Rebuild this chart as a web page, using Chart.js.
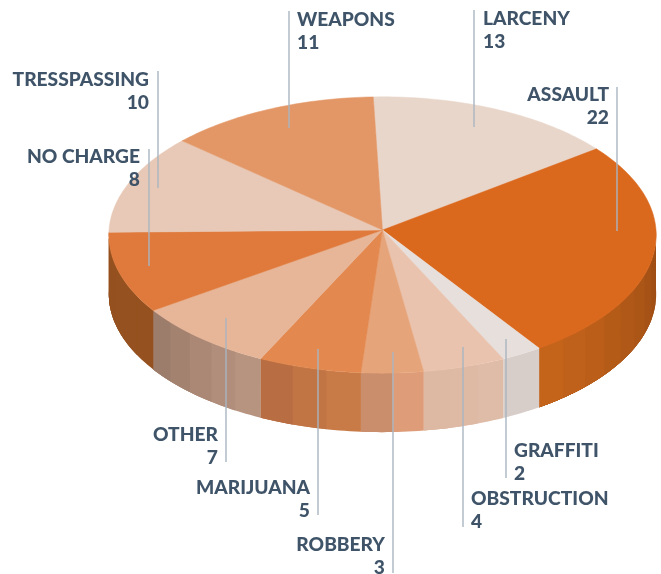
<!DOCTYPE html>
<html>
<head>
<meta charset="utf-8">
<style>html,body{margin:0;padding:0;background:#fff}canvas{display:block}</style>
<script src="https://cdn.jsdelivr.net/npm/chart.js@4/dist/chart.umd.min.js"></script>
</head>
<body>
<canvas id="c" width="661" height="574"></canvas>
<script>
const categories = ['LARCENY','ASSAULT','GRAFFITI','OBSTRUCTION','ROBBERY','MARIJUANA','OTHER','NO CHARGE','TRESSPASSING','WEAPONS'];
const counts = [13,22,2,4,3,5,7,8,10,11];
const topColors = ['#E9D6CB','#DA691E','#E7DFDB','#E9C3AE','#E6A47A','#E3884F','#E7B597','#DF7A3C','#E8C9B7','#E39766'];
const wallFrom = ['#E9D6CB','#9C4C14','#D7CDC9','#DFBCA8','#DE9D78','#C97B47','#B79480','#95511F','#E8C9B7','#E39766'];
const wallTo   = ['#E9D6CB','#C4641B','#D6CCC8','#DDB8A2','#CB8E6C','#B86E42','#9C7C6A','#94511F','#E8C9B7','#E39766'];
// Label anchor: text x, caps baseline y, alignment, leader x, leader top, leader bottom
const labelLayout = [
  [483,25,'left',474,10,127],[609,101,'right',617,87,231],[514,457,'left',506,339,478],
  [471,505,'left',463,347,527],[385,551,'right',393,352,573],[310,494,'right',318,349,515],
  [218,441,'right',226,318,462],[140,163,'right',149,149,266],[149,86,'right',158,71,188],
  [297,26,'left',289,11,128]
];
const SQUASH = 0.5045, PERSP = 0.036, LIFT = 50, DEPTH = 59;

function hex(c){return [1,3,5].map(i=>parseInt(c.substr(i,2),16));}
function mix(a,b,t){const x=hex(a),y=hex(b);return 'rgb('+x.map((v,i)=>Math.round(v+(y[i]-v)*t)).join(',')+')';}

const pie3d = {
  id:'pie3d',
  beforeDatasetDraw(chart,args){
    const ctx = chart.ctx, arcs = args.meta.data;
    const proj = (arc,a)=>{
      const u=Math.cos(a), v=Math.sin(a), s=1/(1-PERSP*v), R=arc.outerRadius;
      return [arc.x+R*u*s, arc.y-LIFT+R*SQUASH*v*s];
    };
    const front0 = 0, front1 = Math.PI;
    ctx.save();
    // side wall: front half of the rim, softly faceted; each band overlaps the next to hide seams
    arcs.forEach((arc,i)=>{
      const a0=Math.max(arc.startAngle,front0), a1=Math.min(arc.endAngle,front1);
      if(a1<=a0) return;
      const bands=Math.max(1,Math.round((a1-a0)/0.11));
      for(let b=0;b<bands;b++){
        const s0=a0+(a1-a0)*b/bands, s1=b<bands-1?a1:a0+(a1-a0)*(b+1)/bands;
        const col=mix(wallFrom[i],wallTo[i],bands>1?b/(bands-1):0);
        const steps=Math.ceil((s1-s0)/0.02);
        ctx.beginPath();
        for(let k=0;k<=steps;k++){const p=proj(arc,s0+(s1-s0)*k/steps);k?ctx.lineTo(p[0],p[1]):ctx.moveTo(p[0],p[1]);}
        for(let k=steps;k>=0;k--){const p=proj(arc,s0+(s1-s0)*k/steps);ctx.lineTo(p[0],p[1]+DEPTH);}
        ctx.closePath();
        ctx.fillStyle=col;ctx.fill();
      }
    });
    // top face
    arcs.forEach(arc=>{
      ctx.beginPath();
      ctx.moveTo(arc.x,arc.y-LIFT);
      const n=Math.ceil((arc.endAngle-arc.startAngle)/0.02);
      for(let k=0;k<=n;k++){const p=proj(arc,arc.startAngle+(arc.endAngle-arc.startAngle)*k/n);ctx.lineTo(p[0],p[1]);}
      ctx.closePath();
      ctx.fillStyle=arc.options.backgroundColor;
      ctx.strokeStyle=arc.options.backgroundColor;ctx.lineWidth=0.5;
      ctx.fill();ctx.stroke();
    });
    ctx.restore();
    return false;
  },
  afterDraw(chart){
    const ctx=chart.ctx;
    ctx.save();
    categories.forEach((name,i)=>{
      const [tx,ty,al,lx,l0,l1]=labelLayout[i];
      ctx.strokeStyle='#A9B5C1';ctx.lineWidth=1.4;
      ctx.beginPath();ctx.moveTo(lx,l0);ctx.lineTo(lx,l1);ctx.stroke();
      ctx.fillStyle='#3F5468';ctx.font='900 19.2px Lato';ctx.textAlign=al;ctx.textBaseline='alphabetic';
      ctx.fillText(name,tx,ty);
      ctx.fillText(String(counts[i]),tx,ty+23);
    });
    ctx.restore();
  }
};

new Chart(document.getElementById('c'),{
  type:'pie',
  data:{labels:categories,datasets:[{data:counts,backgroundColor:topColors,borderWidth:0}]},
  options:{
    responsive:false,animation:false,rotation:-2,
    layout:{padding:{left:109,right:5,top:5,bottom:19}},
    plugins:{legend:{display:false},tooltip:{enabled:false},title:{display:false}}
  },
  plugins:[pie3d]
});
</script>
</body>
</html>
